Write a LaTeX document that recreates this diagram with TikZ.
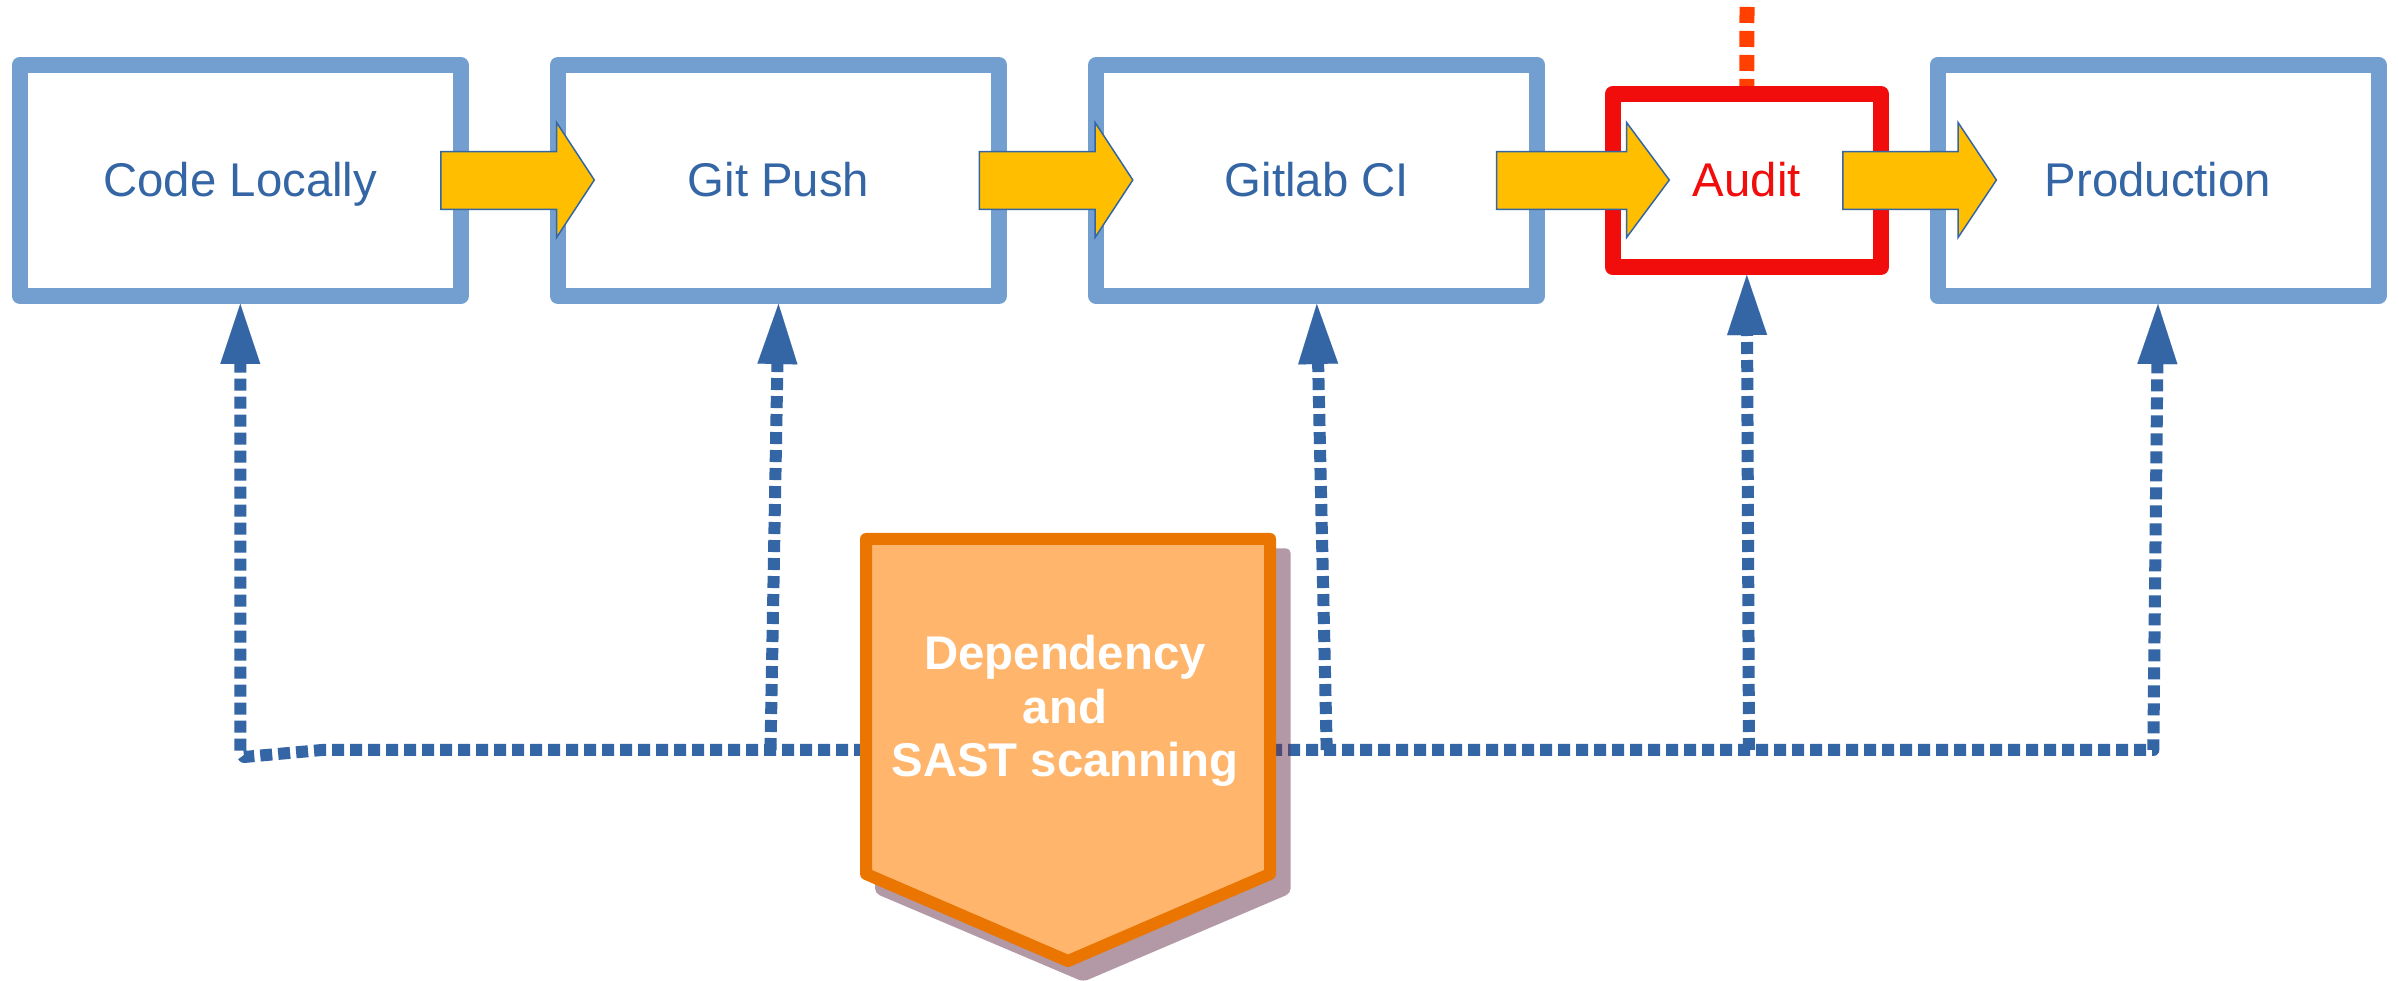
\documentclass[tikz,border=0pt]{standalone}
\usepackage{fontspec}
\setmainfont{Liberation Sans}
\usetikzlibrary{arrows.meta}
\pgfdeclarelayer{backdrop}
\pgfdeclarelayer{behind}
\pgfsetlayers{backdrop,behind,main}
\definecolor{boxblue}{HTML}{729FCF}
\definecolor{txtblue}{HTML}{3465A4}
\definecolor{arrowyel}{HTML}{FFBF00}
\definecolor{auditred}{HTML}{F10D0C}
\definecolor{topred}{HTML}{FF4000}
\definecolor{scanfill}{HTML}{FFB66C}
\definecolor{scandraw}{HTML}{EA7500}
\definecolor{shadowc}{HTML}{67354D}
\newcommand\flowarr[3]{\draw[flowarrow] (#1,151.7) -- (#2,151.7) -- (#2,122.7) -- (#3,180) -- (#2,237.3) -- (#2,209.3) -- (#1,209.3) -- cycle;}
\begin{document}
\begin{tikzpicture}[x=0.3pt,y=-0.3pt,
  stage/.style={draw=boxblue,line width=4.8pt,line join=round,fill=white,
    minimum width=132.3pt,minimum height=69.3pt,inner sep=0pt,text=txtblue,
    font=\fontsize{14.2pt}{17pt}\selectfont,text height=9.9pt,text depth=0pt},
  auditbox/.style={stage,draw=auditred,text=auditred,minimum width=80.55pt,minimum height=51.9pt},
  flowarrow/.style={fill=arrowyel,draw=txtblue,line width=0.45pt,line join=miter},
  dotplain/.style={draw=txtblue,line width=3.6pt,dash pattern=on 3.6pt off 1.8pt,line join=round},
  dotline/.style={dotplain,-{Triangle[length=18pt,width=12pt,line width=0.01pt]}},
  topline/.style={draw=topred,line width=4.5pt,dash pattern=on 4.8pt off 2.4pt},
  scanshape/.style={fill=scanfill,draw=scandraw,line width=3.6pt,line join=round},
  scanshadow/.style={fill=shadowc,fill opacity=0.5,rounded corners=1.5pt},
  scantext/.style={text=white,align=center,inner sep=0pt,
    font=\fontsize{14.2pt}{16.1pt}\selectfont\bfseries}
]
\useasboundingbox (0,0) rectangle (2398,981);
\begin{pgfonlayer}{backdrop}
\fill[white] (0,0) rectangle (2398,981);
\end{pgfonlayer}

% stages
\node[stage] (c1) at (240.3,180.5) {Code Locally};
\node[stage] (c2) at (778.5,180.5) {Git Push};
\node[stage] (c3) at (1316.8,180.5) {Gitlab CI};
\node[auditbox] (audit) at (1746.8,180.5) {Audit};
\node[stage] (prod) at (2158,180.5) {Production};

% dotted line into audit from top (runs under the audit frame)
\coordinate (atop) at (1747,7);
\begin{pgfonlayer}{behind}
\draw[topline] (atop) -- (audit.north);
\end{pgfonlayer}

% flow arrows
\flowarr{440.9}{556.7}{594.3}
\flowarr{979.4}{1095.2}{1132.8}
\flowarr{1496.7}{1626.7}{1669.3}
\flowarr{1842.9}{1958.2}{1996.4}

% connectors from the scanning shape
\coordinate (pL) at (866,750);
\coordinate (pR) at (1270,750);
\coordinate (g2) at (770.5,750);
\coordinate (g3) at (1326.7,750);
\coordinate (g4) at (1749,750);
\draw[dotline] (pL) -- (322,750) -- (244,757) -- (240.3,752) -- (c1.south);
\draw[dotline] (g2) -- (c2.south);
\draw[dotline] (pR) -- (2153.3,750) -- (prod.south);
\draw[dotline] (g3) -- (c3.south);
\draw[dotline] (g4) -- (audit.south);

% scanning shape with shadow
\fill[scanshadow] (875,548.3) -- (1290.7,548.3) -- (1290.7,893.3) -- (1083.3,981.7) -- (875,893.3) -- cycle;
\draw[scanshape] (866,539) -- (1270,539) -- (1270,874) -- (1068,961) -- (866,874) -- cycle;
\node[scantext] (scan) at (1065,711) {Dependency\\and\\SAST scanning};
\end{tikzpicture}
\end{document}
